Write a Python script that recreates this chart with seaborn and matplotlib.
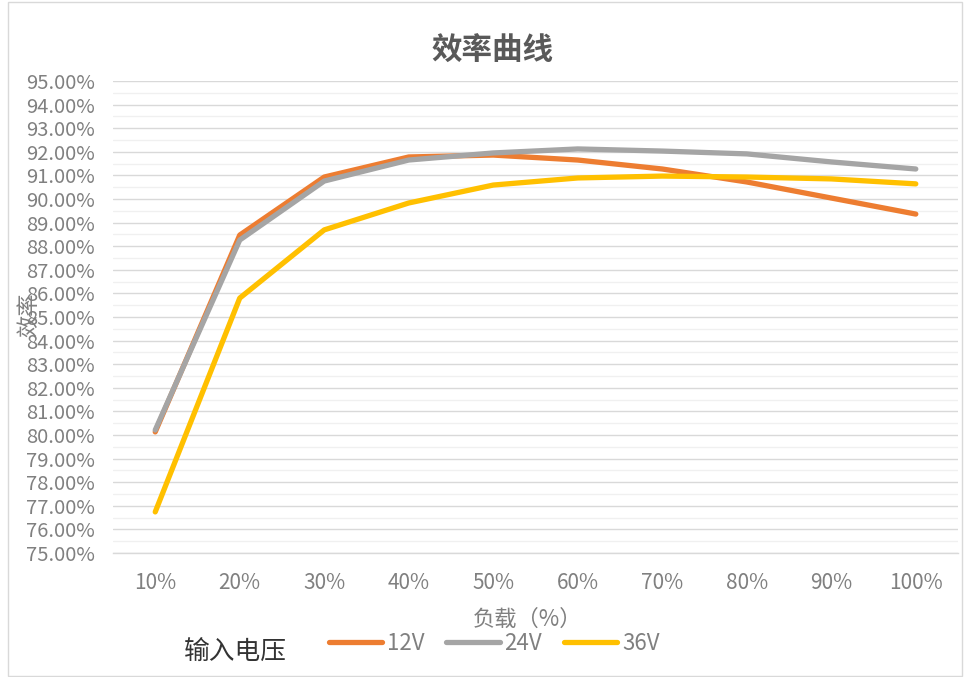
import matplotlib
matplotlib.use("Agg")
import matplotlib.pyplot as plt
from matplotlib.ticker import MultipleLocator, FuncFormatter, FixedLocator
from matplotlib.patches import Rectangle
import seaborn as sns
import pandas as pd

loads = ["10%", "20%", "30%", "40%", "50%", "60%", "70%", "80%", "90%", "100%"]
eff_12v = [80.13, 88.47, 90.93, 91.78, 91.86, 91.65, 91.27, 90.72, 90.04, 89.36]
eff_24v = [80.21, 88.26, 90.76, 91.65, 91.95, 92.12, 92.03, 91.91, 91.57, 91.27]
eff_36v = [76.74, 85.80, 88.69, 89.83, 90.59, 90.89, 90.97, 90.93, 90.85, 90.64]
series_names = ["12V", "24V", "36V"]
series_colors = ["#ED7D31", "#A5A5A5", "#FFC000"]

df = pd.DataFrame({
    "负载": loads * 3,
    "效率": eff_12v + eff_24v + eff_36v,
    "电压": [n for n in series_names for _ in loads],
})

sns.set_theme(style="white")
plt.rcParams["font.family"] = ["Noto Sans CJK SC", "DejaVu Sans"]

fig = plt.figure(figsize=(9.69, 6.77), dpi=100)
ax = fig.add_axes([0.1166, 0.1832, 0.8721, 0.6972])

sns.lineplot(data=df, x="负载", y="效率", hue="电压", palette=series_colors,
             linewidth=3.8, sort=False, ax=ax, legend=False,
             solid_capstyle="round", solid_joinstyle="round")

ax.set_xlim(-0.5, len(loads) - 0.5)
ax.set_ylim(75, 95)
ax.yaxis.set_major_locator(MultipleLocator(1))
ax.yaxis.set_minor_locator(MultipleLocator(0.5))
ax.yaxis.set_major_formatter(FuncFormatter(lambda v, p: f"{v:.2f}%"))
ax.grid(which="major", axis="y", color="#D9D9D9", linewidth=1.0)
ax.grid(which="minor", axis="y", color="#F0F0F0", linewidth=1.0)
ax.set_axisbelow(True)

ax.xaxis.set_minor_locator(FixedLocator([i - 0.5 for i in range(len(loads) + 1)]))
ax.tick_params(axis="x", which="major", length=0, pad=14, labelsize=15, labelcolor="#808080")
ax.tick_params(axis="x", which="minor", length=6, width=1, color="#D9D9D9", direction="out")
ax.tick_params(axis="y", which="both", length=0, pad=13, labelsize=14.5, labelcolor="#808080")

for s in ["top", "right", "left"]:
    ax.spines[s].set_visible(False)
ax.spines["bottom"].set_color("#D9D9D9")
ax.spines["bottom"].set_linewidth(1)

ax.set_xlabel("")
ax.set_ylabel("")
fig.text(0.544, 0.085, "负载（%）", ha="center", va="center", fontsize=16, color="#808080")
fig.text(0.03, 0.535, "效率", rotation=90, ha="center", va="center", fontsize=16, color="#808080")
fig.text(0.508, 0.925, "效率曲线", ha="center", va="center", fontsize=22,
         fontweight="bold", color="#595959")

handles = [plt.Line2D([], [], color=c, linewidth=3.8, solid_capstyle="round") for c in series_colors]
leg = fig.legend(handles, series_names, loc="center", bbox_to_anchor=(0.51, 0.05), ncol=3,
                 frameon=False, fontsize=16, handlelength=2.4, handletextpad=0.2,
                 columnspacing=1.0, labelcolor="#808080")
fig.text(0.19, 0.037, "输入电压", ha="left", va="center", fontsize=18.5, color="#333333")

fig.patches.append(Rectangle((0.008, 0.002), 0.985, 0.995, transform=fig.transFigure,
                             fill=False, edgecolor="#D9D9D9", linewidth=1))

fig.savefig("out.png", dpi=100)
